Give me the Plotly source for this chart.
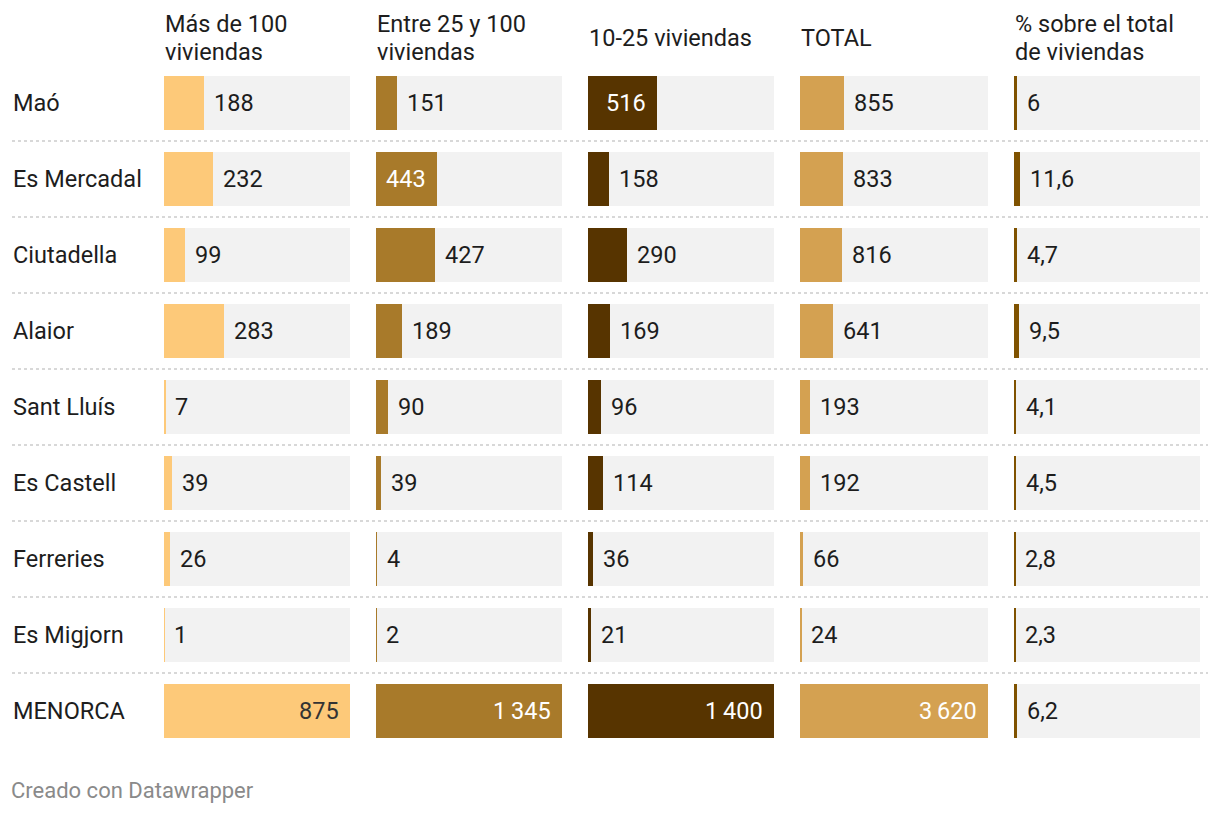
import plotly.graph_objects as go

# ---------------- data ----------------
municipios = ["Maó", "Es Mercadal", "Ciutadella", "Alaior", "Sant Lluís",
              "Es Castell", "Ferreries", "Es Migjorn", "MENORCA"]
mas_de_100 = [188, 232, 99, 283, 7, 39, 26, 1, 875]
entre_25_100 = [151, 443, 427, 189, 90, 39, 4, 2, 1345]
de_10_25 = [516, 158, 290, 169, 96, 114, 36, 21, 1400]
total = [855, 833, 816, 641, 193, 192, 66, 24, 3620]
pct_total = [6, 11.6, 4.7, 9.5, 4.1, 4.5, 2.8, 2.3, 6.2]

headers = [["Más de 100", "viviendas"], ["Entre 25 y 100", "viviendas"],
           ["10-25 viviendas"], ["TOTAL"], ["% sobre el total", "de viviendas"]]
footer = "Creado con Datawrapper"

# ---------------- style ----------------
W, H = 1220, 814
FONT = "Roboto"
FS = 23.5
TXT = "#1d1d1d"
BG_CELL = "#f2f2f2"
colors = ["#fdc979", "#a87a2a", "#573400", "#d4a151", "#7f5200"]
inside_txt = ["#333333", "#ffffff", "#ffffff", "#ffffff", "#ffffff"]
col_px = [(164, 350), (376, 562), (588, 774), (800, 988), (1014, 1200)]
pct_scale_max = 350  # bar scale of the % column

series = [mas_de_100, entre_25_100, de_10_25, total, pct_total]
scale_max = [max(mas_de_100), max(entre_25_100), max(de_10_25), max(total), pct_scale_max]

row_top, row_pitch, cell_h = 65, 76, 54
n = len(municipios)


def fmt(v):
    if isinstance(v, float):
        return f"{v:.1f}".replace(".", ",")
    return f"{v:,}".replace(",", "\u2009")


def px2paper_y(py):
    return 1 - py / H


fig = go.Figure()
annotations = []
shapes = []

for k, (vals, mx) in enumerate(zip(series, scale_max)):
    xa = "x" if k == 0 else f"x{k+1}"
    fig.add_trace(go.Bar(
        y=municipios, x=[mx] * n, orientation="h", xaxis=xa, yaxis="y",
        marker=dict(color=BG_CELL, line=dict(width=0)), width=cell_h / row_pitch,
        hoverinfo="skip", showlegend=False))
    fig.add_trace(go.Bar(
        y=municipios, x=vals, orientation="h", xaxis=xa, yaxis="y",
        marker=dict(color=colors[k], line=dict(width=0)), width=cell_h / row_pitch,
        hoverinfo="skip", showlegend=False))
    x0, x1 = col_px[k]
    axkey = "xaxis" if k == 0 else f"xaxis{k+1}"
    fig.update_layout(**{axkey: dict(domain=[x0 / W, x1 / W], range=[0, mx],
                                     showgrid=False, zeroline=False, visible=False,
                                     anchor="y", fixedrange=True)})
    for name, v in zip(municipios, vals):
        inside = (v / mx) >= 0.325
        annotations.append(dict(
            x=v, y=name, xref=xa, yref="y", text=fmt(v), showarrow=False,
            xanchor="right" if inside else "left",
            xshift=-9 if inside else 8,
            font=dict(family=FONT, size=FS, color=inside_txt[k] if inside else TXT)))
    lines = headers[k]
    ys = [38] if len(lines) == 1 else [24, 52]
    for line, py in zip(lines, ys):
        annotations.append(dict(
            x=x0 / W, y=px2paper_y(py), xref="paper", yref="paper", text=line,
            showarrow=False, xanchor="left", yanchor="middle", align="left",
            xshift=-1, font=dict(family=FONT, size=FS, color=TXT)))

for name in municipios:
    annotations.append(dict(
        x=12 / W, y=name, xref="paper", yref="y", text=name, showarrow=False,
        xanchor="left", xshift=-1, font=dict(family=FONT, size=FS, color=TXT)))

for i in range(n - 1):
    shapes.append(dict(type="line", xref="paper", yref="y",
                       x0=12 / W, x1=1208 / W, y0=i + 0.5, y1=i + 0.5,
                       line=dict(color="#cccccc", width=1.5, dash="dot")))

annotations.append(dict(
    x=10 / W, y=px2paper_y(790), xref="paper", yref="paper", text=footer,
    showarrow=False, xanchor="left", yanchor="middle", xshift=-1,
    font=dict(family=FONT, size=22, color="#8a8a8a")))

fig.update_layout(
    width=W, height=H, margin=dict(l=0, r=0, t=0, b=0),
    paper_bgcolor="white", plot_bgcolor="white",
    barmode="overlay", bargap=0,
    yaxis=dict(domain=[px2paper_y(row_top + n * row_pitch), px2paper_y(row_top)],
               type="category", categoryorder="array", categoryarray=municipios,
               range=[n - 0.5, -0.5], visible=False, fixedrange=True),
    annotations=annotations, shapes=shapes,
)

fig.write_html("out.html", config={"displayModeBar": False},
               post_script="document.body.style.margin='0';document.body.style.overflow='hidden';")
